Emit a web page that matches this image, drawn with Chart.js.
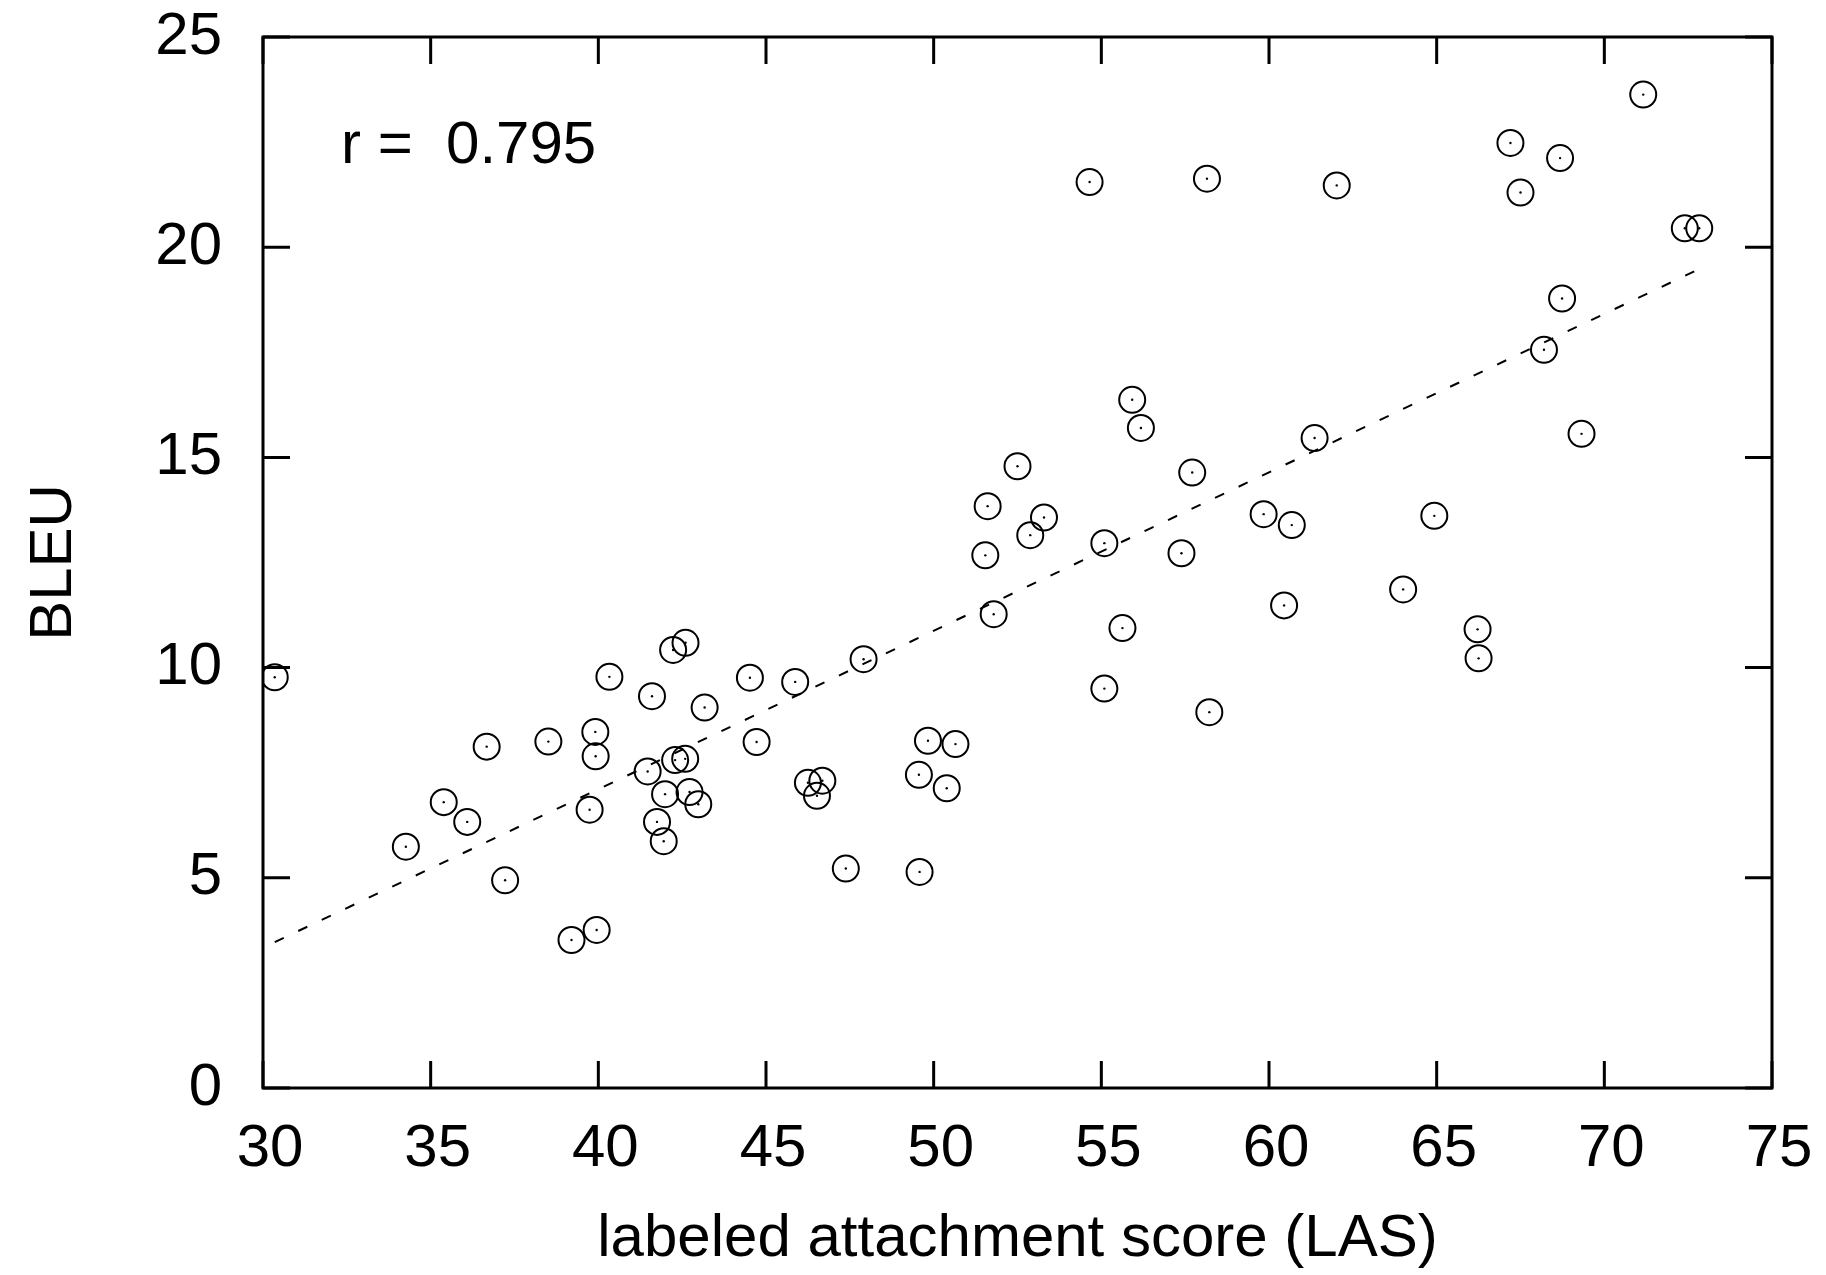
<!DOCTYPE html>
<html>
<head>
<meta charset="utf-8">
<script src="https://cdn.jsdelivr.net/npm/chart.js@4.4.1/dist/chart.umd.min.js"></script>
<style>
  html, body { margin: 0; padding: 0; background: #fff; }
  #wrap { width: 1826px; height: 1275px; }
</style>
</head>
<body>
<div id="wrap"><canvas id="chart" width="1826" height="1275"></canvas></div>
<script>
// one point per language: parser LAS against translation BLEU
const las = [
    30.35, 34.26, 35.39, 36.09, 36.67, 37.22, 38.51, 39.91, 39.92, 39.74,
    39.20, 39.95, 40.33, 41.60, 41.47, 42.23, 42.60, 42.29, 42.59, 41.99,
    41.75, 41.95, 42.72, 42.98, 43.17, 44.52, 44.72, 45.87, 46.25, 46.68,
    46.52, 47.38, 47.91, 49.56, 49.83, 50.65, 50.39, 49.58, 51.54, 51.61,
    51.79, 52.50, 52.88, 53.29, 54.65, 55.09, 55.63, 55.09, 55.92, 56.18,
    57.71, 57.39, 58.15, 58.22, 59.84, 60.68, 60.45, 61.36, 62.02, 64.00,
    64.93, 66.22, 66.25, 67.20, 67.50, 68.68, 68.74, 68.20, 69.32, 71.16,
    72.40, 72.83
];
const bleu = [
    9.77, 5.74, 6.80, 6.33, 8.12, 4.94, 8.24, 8.47, 7.89, 6.62,
    3.52, 3.76, 9.78, 9.32, 7.53, 10.42, 10.59, 7.80, 7.83, 6.99,
    6.33, 5.87, 7.04, 6.75, 9.05, 9.76, 8.23, 9.66, 7.26, 7.31,
    6.95, 5.22, 10.20, 7.45, 8.26, 8.18, 7.13, 5.14, 12.67, 13.84,
    11.27, 14.79, 13.15, 13.57, 21.55, 12.96, 10.94, 9.50, 16.37, 15.70,
    14.64, 12.72, 21.63, 8.94, 13.65, 13.39, 11.48, 15.46, 21.47, 11.86,
    13.61, 10.91, 10.22, 22.48, 21.30, 22.12, 18.78, 17.56, 15.56, 23.63,
    20.45, 20.45
];
// dashed regression line, ends
const fitLas = [30.35, 72.83];
const fitBleu = [3.47, 19.48];

const xTicks = [30, 35, 40, 45, 50, 55, 60, 65, 70, 75];
const yTicks = [0, 5, 10, 15, 20, 25];
const corrLabel = 'r =  0.795';

const FONT = '"Liberation Sans", Arial, Helvetica, sans-serif';
Chart.defaults.font.family = FONT;
Chart.defaults.color = '#000';

const points = las.map((x, i) => ({ x, y: bleu[i] }));
const fitLine = fitLas.map((x, i) => ({ x, y: fitBleu[i] }));

// gnuplot style box with inward ticks on all four sides
const frame = {
    id: 'frame',
    afterDatasetsDraw(chart) {
        const { ctx, chartArea: a, scales: { x, y } } = chart;
        const len = 27;
        ctx.save();
        ctx.strokeStyle = '#000';
        ctx.lineWidth = 3;
        ctx.beginPath();
        xTicks.forEach(v => {
            const px = x.getPixelForValue(v);
            ctx.moveTo(px, a.bottom); ctx.lineTo(px, a.bottom - len);
            ctx.moveTo(px, a.top); ctx.lineTo(px, a.top + len);
        });
        yTicks.forEach(v => {
            const py = y.getPixelForValue(v);
            ctx.moveTo(a.left, py); ctx.lineTo(a.left + len, py);
            ctx.moveTo(a.right, py); ctx.lineTo(a.right - len, py);
        });
        ctx.stroke();
        ctx.strokeRect(a.left, a.top, a.right - a.left, a.bottom - a.top);
        ctx.fillStyle = '#000';
        ctx.font = '60px ' + FONT;
        ctx.textBaseline = 'alphabetic';
        ctx.textAlign = 'left';
        ctx.fillText(corrLabel, a.left + 78, a.top + 126);
        ctx.restore();
    }
};

// keep chart area where the reference has it: no extra room for edge labels
function noPad(s) {
    s.paddingLeft = 0; s.paddingRight = 0;
    s.paddingTop = 0; s.paddingBottom = 0;
}

new Chart(document.getElementById('chart'), {
    type: 'scatter',
    data: {
        datasets: [
            {
                data: fitLine,
                showLine: true,
                borderColor: '#000',
                borderWidth: 2,
                borderDash: [10, 16],
                pointRadius: 0,
                fill: false
            },
            {
                data: points,
                pointStyle: 'circle',
                pointRadius: 13,
                borderWidth: 2,
                borderColor: '#000',
                backgroundColor: 'rgba(0,0,0,0)'
            },
            {
                data: points,
                pointRadius: 1.2,
                borderWidth: 0,
                backgroundColor: '#000'
            }
        ]
    },
    options: {
        responsive: false,
        animation: false,
        events: [],
        layout: { padding: { top: 37, right: 54, left: 0, bottom: 0 } },
        plugins: { legend: { display: false }, tooltip: { enabled: false } },
        scales: {
            x: {
                type: 'linear',
                position: 'bottom',
                min: 30,
                max: 75,
                grid: { display: false, drawTicks: false },
                border: { display: false },
                ticks: {
                    stepSize: 5,
                    autoSkip: false,
                    maxRotation: 0,
                    padding: 25,
                    labelOffset: 7,
                    font: { size: 60, lineHeight: 1.2 }
                },
                title: {
                    display: true,
                    text: 'labeled attachment score (LAS)',
                    font: { size: 60, lineHeight: 1.2 },
                    padding: { top: 0, bottom: 0 }
                },
                afterFit(s) { s.height = 187; noPad(s); }
            },
            y: {
                type: 'linear',
                position: 'left',
                min: 0,
                max: 25,
                grid: { display: false, drawTicks: false },
                border: { display: false },
                ticks: {
                    stepSize: 5,
                    padding: 41,
                    font: { size: 60, lineHeight: 1.2 }
                },
                title: {
                    display: true,
                    text: 'BLEU',
                    font: { size: 60, lineHeight: 1.2 },
                    padding: { top: 18, bottom: 0 }
                },
                afterFit(s) { s.width = 263; noPad(s); }
            }
        }
    },
    plugins: [frame]
});
</script>
</body>
</html>
